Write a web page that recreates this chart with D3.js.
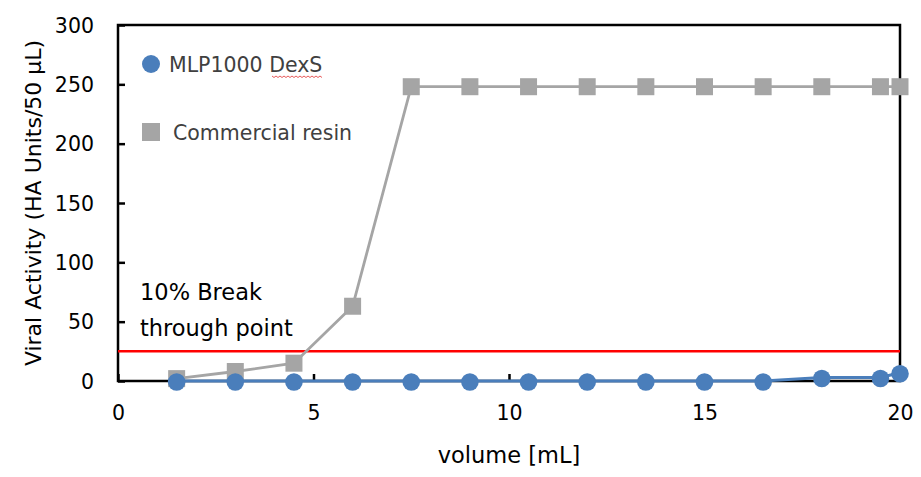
<!DOCTYPE html>
<html><head><meta charset="utf-8">
<script src="https://cdn.jsdelivr.net/npm/d3@7"></script>
<style>body{margin:0;background:#fff}svg{display:block}text{font-family:"DejaVu Sans",sans-serif}</style>
</head><body><div id="c"></div>
<script>
const volumes = [1.5, 3, 4.5, 6, 7.5, 9, 10.5, 12, 13.5, 15, 16.5, 18, 19.5, 20];
const mlpValues = [0, 0, 0, 0, 0, 0, 0, 0, 0, 0, 0, 3, 3, 7];
const commercialValues = [2, 8, 15, 63, 248, 248, 248, 248, 248, 248, 248, 248, 248, 248];
const breakthrough = 25;
const xTicks = [0, 5, 10, 15, 20];
const yTicks = [0, 50, 100, 150, 200, 250, 300];
const seriesNames = ["MLP1000 DexS", "Commercial resin"];

const W = 921, H = 477;
const m = {l:118, r:21, t:25, b:96};
const svg = d3.select("#c").append("svg").attr("width", W).attr("height", H);
const x = d3.scaleLinear().domain([0, 20]).range([m.l, W - m.r]);
const y = d3.scaleLinear().domain([0, 300]).range([H - m.b, m.t]);

const blue = "#4a7ebb", gray = "#a5a5a5";

// frame
svg.append("rect").attr("x", x(0)).attr("y", y(300)).attr("width", x(20) - x(0)).attr("height", y(0) - y(300))
  .attr("fill", "none").attr("stroke", "#000").attr("stroke-width", 2.5);

// y axis
const ya = svg.append("g").attr("transform", `translate(${x(0)},0)`)
  .call(d3.axisLeft(y).tickValues(yTicks).tickSize(-7).tickPadding(24));
ya.select(".domain").remove();
ya.selectAll("line").attr("stroke", "#000").attr("stroke-width", 2.5);
ya.selectAll("text").attr("font-size", 20.5).attr("fill", "#000").attr("dy", "0.35em");

// x axis
const xa = svg.append("g").attr("transform", `translate(0,${y(0)})`)
  .call(d3.axisBottom(x).tickValues(xTicks).tickSize(-7).tickPadding(32));
xa.select(".domain").remove();
xa.selectAll("line").attr("stroke", "#000").attr("stroke-width", 2.5);
xa.selectAll("text").attr("font-size", 20.5).attr("fill", "#000").attr("dy", "0.35em");

// axis titles
svg.append("text").attr("x", x(10)).attr("y", 463).attr("text-anchor", "middle")
  .attr("font-size", 22.5).attr("fill", "#000").text("volume [mL]");
svg.append("text").attr("transform", `translate(41,${(y(0) + y(300)) / 2}) rotate(-90)`)
  .attr("text-anchor", "middle").attr("font-size", 22).attr("fill", "#000")
  .text("Viral Activity (HA Units/50 μL)");

// breakthrough line
svg.append("line").attr("x1", x(0)).attr("x2", x(20)).attr("y1", y(breakthrough)).attr("y2", y(breakthrough))
  .attr("stroke", "#ff0000").attr("stroke-width", 2.5);
svg.append("text").attr("x", 140).attr("y", 300).attr("font-size", 22.5).attr("fill", "#000").text("10% Break");
svg.append("text").attr("x", 140).attr("y", 336).attr("font-size", 22.5).attr("fill", "#000").text("through point");

const line = d3.line().x(d => x(d[0])).y(d => y(d[1]));
const comm = volumes.map((v, i) => [v, commercialValues[i]]);
const mlp = volumes.map((v, i) => [v, mlpValues[i]]);

svg.append("path").datum(comm).attr("d", line).attr("fill", "none").attr("stroke", gray).attr("stroke-width", 2.8);
svg.selectAll(".sq").data(comm).enter().append("rect")
  .attr("x", d => x(d[0]) - 8.5).attr("y", d => y(d[1]) - 8.5).attr("width", 17).attr("height", 17).attr("fill", gray);

svg.append("path").datum(mlp).attr("d", line).attr("fill", "none").attr("stroke", blue).attr("stroke-width", 3);
svg.selectAll(".ci").data(mlp).enter().append("circle")
  .attr("cx", d => x(d[0])).attr("cy", d => y(d[1]) + 1).attr("r", 8.8).attr("fill", blue);

// legend
svg.append("circle").attr("cx", 151).attr("cy", 64).attr("r", 9).attr("fill", blue);
svg.append("text").attr("x", 169).attr("y", 72).attr("font-size", 20.5).attr("fill", "#404040").text(seriesNames[0]);
svg.append("rect").attr("x", 142).attr("y", 123).attr("width", 18).attr("height", 18).attr("fill", gray);
svg.append("text").attr("x", 173).attr("y", 140).attr("font-size", 20.5).attr("fill", "#404040").text(seriesNames[1]);
// spell-check squiggle under "DexS"
{
  const x0 = 272, x1 = 322, yy = 76;
  let p = `M${x0},${yy}`;
  for (let xx = x0, k = 0; xx < x1; xx += 2, k++) p += `L${xx + 2},${yy + (k % 2 ? 0 : 1.5)}`;
  svg.append("path").attr("d", p).attr("fill", "none").attr("stroke", "#e03030").attr("stroke-width", 0.8);
}
</script></body></html>
